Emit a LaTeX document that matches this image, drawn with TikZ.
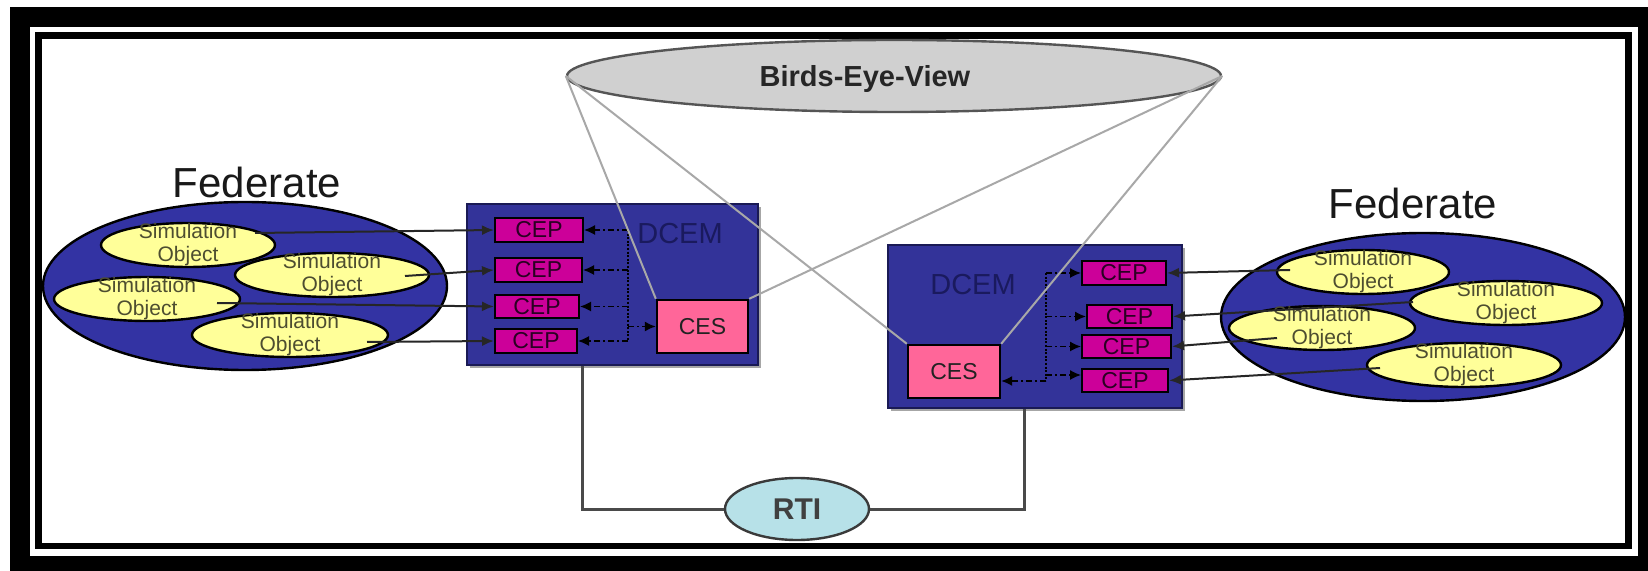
\documentclass[tikz,border=0pt]{standalone}
\usepackage{fontspec}
\setmainfont{Liberation Sans}
\usetikzlibrary{shapes.geometric,arrows.meta}
\definecolor{fedblue}{HTML}{3333A3}
\definecolor{dcemblue}{HTML}{333399}
\definecolor{dcemedge}{HTML}{1A1A55}
\definecolor{cepmag}{HTML}{CC0099}
\definecolor{cespink}{HTML}{FF6699}
\definecolor{simyel}{HTML}{FFFF99}
\definecolor{rticyan}{HTML}{B7E1E8}
\definecolor{rtiedge}{HTML}{3A3A3A}
\definecolor{bevgray}{HTML}{D0D0D0}
\definecolor{bevedge}{HTML}{555555}
\definecolor{dcemtxt}{HTML}{1A1A5E}
\definecolor{simtxt}{HTML}{4D4D30}
\definecolor{ceptxt}{HTML}{2A0022}
\definecolor{cestxt}{HTML}{222222}
\definecolor{viewgray}{HTML}{A8A8A8}
\definecolor{rtilinec}{HTML}{4A4A4A}
\begin{document}
\begin{tikzpicture}[x=0.5pt,y=-0.5pt,
  fedell/.style={ellipse,draw=black,line width=1.2pt,fill=fedblue,inner sep=0pt,minimum width=202pt,minimum height=84pt},
  simobj/.style={ellipse,draw=black,line width=1.2pt,fill=simyel,inner sep=0pt,minimum height=22pt,
     label={[font=\fontsize{10.5}{11.5}\selectfont,text=simtxt,align=center,inner sep=0pt]center:Simulation\\Object}},
  fedlbl/.style={font=\fontsize{21}{24}\selectfont,text=black!90,anchor=base,inner sep=0pt},
  dcembox/.style={rectangle,draw=dcemedge,line width=1pt,fill=dcemblue,inner sep=0pt},
  dcemlbl/.style={font=\fontsize{14.5}{16}\selectfont,text=dcemtxt,inner sep=0pt},
  cepbox/.style={rectangle,draw=black,line width=1pt,fill=cepmag,inner sep=0pt,minimum height=12pt,font=\fontsize{11.5}{12}\selectfont,text=ceptxt},
  cesbox/.style={rectangle,draw=black,line width=1.2pt,fill=cespink,inner sep=0pt,font=\fontsize{11.5}{12}\selectfont,text=cestxt},
  feed/.style={draw=black!85,line width=1pt,-{Latex[length=6pt,width=5pt]}},
  innerarrow/.style={draw=black,line width=0.8pt,dash pattern=on 3pt off 1.5pt on 1pt off 1.5pt,-{Latex[length=5.5pt,width=5pt]}},
  bus/.style={draw=black,line width=0.8pt,dash pattern=on 1pt off 0.8pt},
  viewline/.style={draw=viewgray,line width=1pt},
  rtilink/.style={draw=rtilinec,line width=1.5pt}
]
\useasboundingbox (0,0) rectangle (1648,571);
% frame
\fill[black] (10,7) rectangle (1648,571);
\fill[white] (30,27) rectangle (1638,556);
\draw[black,line width=3.25pt] (38.5,35.5) rectangle (1628.5,546);

% left federate
\node[fedell] (fedL) at (245,286) {};
\node[simobj,minimum width=87pt] (sL1) at (188,245) {};
\node[simobj,minimum width=97pt] (sL2) at (332,275) {};
\node[simobj,minimum width=93pt] (sL3) at (147,299) {};
\node[simobj,minimum width=98pt] (sL4) at (290,335) {};
\node[fedlbl] (fedLlbl) at (257,198) {Federate};

% right federate
\node[fedell] (fedR) at (1423,317) {};
\node[simobj,minimum width=86pt] (sR1) at (1363,272) {};
\node[simobj,minimum width=96pt] (sR2) at (1506,303) {};
\node[simobj,minimum width=93pt] (sR3) at (1322,328) {};
\node[simobj,minimum width=97pt] (sR4) at (1464,365) {};
\node[fedlbl] (fedRlbl) at (1413,219) {Federate};

% left DCEM
\fill[black!35] (470,207) rectangle (761,368);
\node[dcembox,minimum width=145.5pt,minimum height=80.5pt] (dcemL) at (612.5,284.5) {};
\node[dcemlbl] (dcemLlbl) at (680,234) {DCEM};
\node[cepbox,minimum width=44pt] (cepL1) at (539,230) {CEP};
\node[cepbox,minimum width=43.5pt] (cepL2) at (538.5,270) {CEP};
\node[cepbox,minimum width=42pt,minimum height=11.5pt] (cepL3) at (537,306.5) {CEP};
\node[cepbox,minimum width=41pt] (cepL4) at (536,341) {CEP};
\node[cesbox,minimum width=45.5pt,minimum height=26.5pt] (cesL) at (702.5,326.5) {CES};

% right DCEM
\fill[black!35] (891,248) rectangle (1185,411);
\node[dcembox,minimum width=147pt,minimum height=81.5pt] (dcemR) at (1035,326.5) {};
\node[dcemlbl] (dcemRlbl) at (973,285) {DCEM};
\node[cepbox,minimum width=42pt] (cepR1) at (1124,273) {CEP};
\node[cepbox,minimum width=42.5pt,minimum height=11.5pt] (cepR2) at (1129.5,316.5) {CEP};
\node[cepbox,minimum width=44.5pt,minimum height=11.5pt] (cepR3) at (1126.5,346.5) {CEP};
\node[cepbox,minimum width=43pt,minimum height=11.5pt] (cepR4) at (1125,380.5) {CEP};
\node[cesbox,minimum width=46pt,minimum height=26.5pt] (cesR) at (954,371.5) {CES};

% feeds left
\coordinate (pL1) at (255,233);
\coordinate (pL2) at (405,276);
\coordinate (pL3) at (217,303);
\coordinate (pL4) at (367,342);
\draw[feed] (pL1) -- (cepL1.west);
\draw[feed] (pL2) -- (cepL2.west);
\draw[feed] (pL3) -- (cepL3.west);
\draw[feed] (pL4) -- (cepL4.west);

% feeds right
\coordinate (pR1) at (1290,270);
\coordinate (pR2) at (1413,302);
\coordinate (pR3) at (1277,338);
\coordinate (pR4) at (1380,368);
\draw[feed] (pR1) -- (cepR1.east);
\draw[feed] (pR2) -- (cepR2.east);
\draw[feed] (pR3) -- (cepR3.east);
\draw[feed] (pR4) -- (cepR4.east);

% internal left
\coordinate (busLt) at (628,230);
\coordinate (busLb) at (628,341);
\draw[bus] (busLt) -- (busLb);
\draw[innerarrow] (busLt) -- (cepL1.east);
\draw[innerarrow] (busLt |- cepL2) -- (cepL2.east);
\draw[innerarrow] (busLt |- cepL3) -- (cepL3.east);
\draw[innerarrow] (busLb) -- (cepL4.east);
\draw[innerarrow] (busLt |- cesL) -- (cesL.west);

% internal right
\coordinate (busRt) at (1046,273);
\coordinate (busRb) at (1046,381);
\coordinate (busR4) at (1046,375);
\draw[bus] (busRt) -- (busRb);
\draw[innerarrow] (busRt) -- (cepR1.west);
\draw[innerarrow] (busRt |- cepR2) -- (cepR2.west);
\draw[innerarrow] (busRt |- cepR3) -- (cepR3.west);
\draw[innerarrow] (busR4) -- (cepR4.west |- busR4);
\draw[innerarrow] (busRb) -- (cesR.east |- busRb);

% birds eye view
\node[ellipse,draw=bevedge,line width=1.2pt,fill=bevgray,minimum width=327pt,minimum height=36pt,inner sep=0pt] (bev) at (894,76) {};
\node[font=\bfseries\fontsize{14.5}{16}\selectfont,text=black!85,inner sep=0pt] (bevlbl) at (865,79) {Birds-Eye-View};
\draw[viewline] (bev.west) -- (cesL.north west);
\draw[viewline] (bev.west) -- (cesR.north west);
\draw[viewline] (bev.east) -- (cesL.north east);
\draw[viewline] (bev.east) -- (cesR.north east);

% RTI
\coordinate (rtiLc) at (582,509);
\coordinate (rtiRc) at (1024,509);
\node[ellipse,draw=rtiedge,line width=1.2pt,fill=rticyan,minimum width=72pt,minimum height=31pt,inner sep=0pt,font=\bfseries\fontsize{15}{16}\selectfont,text=black!75] (rti) at (797,509) {RTI};
\draw[rtilink] (rtiLc |- dcemL.south) -- (rtiLc) -- (rti.west);
\draw[rtilink] (rtiRc |- dcemR.south) -- (rtiRc) -- (rti.east);
\end{tikzpicture}
\end{document}
